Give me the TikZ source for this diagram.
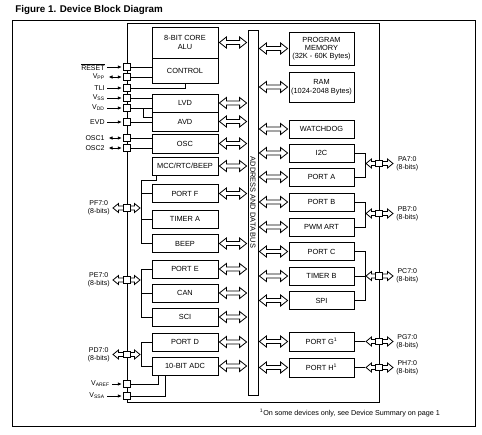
\documentclass[tikz,border=0pt]{standalone}
\usepackage{fontspec}
\setmainfont{Liberation Sans}
\usetikzlibrary{arrows.meta,calc}

\begin{document}
\begin{tikzpicture}[x=1pt, y=-1pt, line width=0.8pt,
  blk/.style={draw, fill=white, minimum width=66pt, minimum height=18pt, inner sep=1pt, align=center, font=\fontsize{7.4}{8.3}\selectfont},
  rblk/.style={blk, minimum width=65pt},
  pinbox/.style={draw, fill=white, minimum size=6.5pt, inner sep=0pt},
  pinlbl/.style={inner sep=2pt, align=center, font=\fontsize{7}{7.8}\selectfont},
  pinin/.style={-{Latex[length=4pt,width=3.5pt]}, shorten >=1.5pt},
  pinio/.style={{Latex[length=4pt,width=3.5pt]}-{Latex[length=4pt,width=3.5pt]}, shorten >=1.5pt, shorten <=1.5pt},
  dblarr/.style n args={3}{draw, fill=white, to path={
    let \p1=(\tikztostart), \p2=(\tikztotarget) in
    (\x1+1pt,\y1) -- (\x1+1pt+#1,\y1+#2) -- (\x1+1pt+#1,\y1+#3)
    -- (\x2-1pt-#1,\y1+#3) -- (\x2-1pt-#1,\y1+#2) -- (\x2-1pt,\y1)
    -- (\x2-1pt-#1,\y1-#2) -- (\x2-1pt-#1,\y1-#3)
    -- (\x1+1pt+#1,\y1-#3) -- (\x1+1pt+#1,\y1-#2) -- cycle}},
  busarr/.style={dblarr={7pt}{5.5pt}{2pt}},
  pinarr/.style={dblarr={5.5pt}{4.5pt}{2pt}}]
  \useasboundingbox (0,0) rectangle (482,434);

  % title and frames
  \node[anchor=base west, inner sep=0pt, font=\bfseries\fontsize{9.8}{11}\selectfont] (title) at (15,12.5) {Figure 1. Device Block Diagram};
  \draw (12,20) rectangle (475,426);
  \draw (127,23) rectangle (379,402);

  % address and data bus
  \node[draw, fill=white, minimum width=10pt, minimum height=365pt, inner sep=0pt] (bus) at (253,212.5) {};
  \node[rotate=-90, inner sep=0pt, font=\fontsize{7.4}{8}\selectfont] (buslbl) at (253,202.5) {ADDRESS AND DATA BUS};

  % left column
  \node[blk, minimum height=31pt] (alu) at (185,42.5) {8-BIT CORE\\ALU};
  \node[blk, minimum height=25pt] (control) at (185,70.5) {CONTROL};
  \node[blk] (lvd) at (185,103) {LVD};
  \node[blk, minimum height=19pt] (avd) at (185,121.5) {AVD};
  \node[blk, minimum height=19pt] (osc) at (185,143.5) {OSC};
  \node[blk] (mcc) at (185,166) {MCC/RTC/BEEP};
  \node[blk] (portf) at (185,193.5) {PORT F};
  \node[blk] (timera) at (185,219) {TIMER A};
  \node[blk] (beep) at (185,243.5) {BEEP};
  \node[blk] (porte) at (185,269) {PORT E};
  \node[blk] (can) at (185,293) {CAN};
  \node[blk] (sci) at (185,317) {SCI};
  \node[blk] (portd) at (185,342) {PORT D};
  \node[blk] (adc) at (185,366) {10-BIT ADC};

  % right column
  \node[rblk, minimum height=33pt] (progmem) at (321.5,48.5) {PROGRAM\\MEMORY\\(32K - 60K Bytes)};
  \node[rblk, minimum height=30pt, font=\fontsize{7.4}{9.5}\selectfont] (ram) at (321.5,87) {RAM\\(1024-2048 Bytes)};
  \node[rblk] (watchdog) at (321.5,129) {WATCHDOG};
  \node[rblk] (i2c) at (321.5,153) {I2C};
  \node[rblk] (porta) at (321.5,177) {PORT A};
  \node[rblk] (portb) at (321.5,202) {PORT B};
  \node[rblk] (pwmart) at (321.5,227) {PWM ART};
  \node[rblk] (portc) at (321.5,251.5) {PORT C};
  \node[rblk] (timerb) at (321.5,276) {TIMER B};
  \node[rblk] (spi) at (321.5,300.5) {SPI};
  \node[rblk, minimum height=19pt] (portg) at (321.5,341.5) {PORT G\textsuperscript{1}};
  \node[rblk, minimum height=19pt] (porth) at (321.5,367.5) {PORT H\textsuperscript{1}};

  % bus arrows
  \foreach \bx in {alu,lvd,avd,osc,mcc,portf,beep,porte,can,sci,portd,adc}
    \draw[busarr] (\bx.east) to (\bx.east -| bus.west);
  \foreach \bx in {progmem,ram,watchdog,i2c,porta,portb,pwmart,portc,timerb,spi,portg,porth}
    \draw[busarr] (\bx.west -| bus.east) to (\bx.west);

  % left pins
  \coordinate (lbus) at (141,0);
  \node[pinbox] (preset) at (127,67) {};
  \node[pinbox] (pvpp) at (127,77) {};
  \node[pinbox] (ptli) at (127,88) {};
  \node[pinbox] (pvss) at (127,98) {};
  \node[pinbox] (pvdd) at (127,108) {};
  \node[pinbox] (pevd) at (127,122) {};
  \node[pinbox] (posc1) at (127,138) {};
  \node[pinbox] (posc2) at (127,148) {};
  \node[pinbox] (pvaref) at (127,384) {};
  \node[pinbox] (pvssa) at (127,396) {};
  \node[pinlbl, anchor=east] (lreset) at (107,67) {\(\overline{\mbox{RESET}}\)};
  \node[pinlbl, anchor=east] (lvpp) at (107,77) {V\textsubscript{PP}};
  \node[pinlbl, anchor=east] (ltli) at (107,88) {TLI};
  \node[pinlbl, anchor=east] (lvss) at (107,98) {V\textsubscript{SS}};
  \node[pinlbl, anchor=east] (lvdd) at (107,108) {V\textsubscript{DD}};
  \node[pinlbl, anchor=east] (levd) at (107,122) {EVD};
  \node[pinlbl, anchor=east] (losc1) at (107,138) {OSC1};
  \node[pinlbl, anchor=east] (losc2) at (107,148) {OSC2};
  \node[pinlbl, anchor=east] (lvaref) at (112,384) {V\textsubscript{AREF}};
  \node[pinlbl, anchor=east] (lvssa) at (107,396) {V\textsubscript{SSA}};
  \draw[pinin] (lreset) -- (preset);
  \draw[pinio] (lvpp) -- (pvpp);
  \draw[pinin] (ltli) -- (ptli);
  \draw[pinin] (lvss) -- (pvss);
  \draw[pinin] (lvdd) -- (pvdd);
  \draw[pinin] (levd) -- (pevd);
  \draw[pinio] (losc1) -- (posc1);
  \draw[pinio] (losc2) -- (posc2);
  \draw[pinin] (lvaref) -- (pvaref);
  \draw[pinin] (lvssa) -- (pvssa);

  % left wiring
  \draw (preset) -- (preset -| control.west);
  \draw (pvpp) -- (pvpp -| control.west);
  \draw (ptli) -| (control.south);
  \draw (pvss) -- (pvss -| lvd.west);
  \draw (pvdd) -- (pvdd -| lvd.west);
  \coordinate (vddtap) at (143,108);
  \draw (vddtap) |- ([yshift=4pt]avd.west);
  \draw (pevd) -- (pevd -| avd.west);
  \draw (posc1) -- (posc1 -| osc.west);
  \draw (posc2) -- (posc2 -| osc.west);
  \coordinate (fbus) at (141,180);
  \draw ([xshift=5pt]mcc.south west) |- (fbus) |- (beep.west);
  \draw (lbus |- portf.west) -- (portf.west);
  \draw (lbus |- timera.west) -- (timera.west);
  \draw (porte.west) -- (lbus |- porte.west) |- (sci.west);
  \draw (lbus |- can.west) -- (can.west);
  \draw (portd.west) -- (lbus |- portd.west) |- (adc.west);
  \draw (pvaref) -| ([xshift=7pt]adc.south west);
  \draw (pvssa) -| ([xshift=14pt]adc.south west);

  % port pins, left
  \node[pinlbl, anchor=east] (lpf) at (112,208) {PF7:0\\(8-bits)};
  \node[pinlbl, anchor=east] (lpe) at (112,280) {PE7:0\\(8-bits)};
  \node[pinlbl, anchor=east] (lpd) at (112,354.5) {PD7:0\\(8-bits)};
  \draw[pinarr] (lpf.east) to (lpf.east -| lbus);
  \draw[pinarr] (lpe.east) to (lpe.east -| lbus);
  \draw[pinarr] (lpd.east) to (lpd.east -| lbus);
  \node[pinbox] (ppf) at (127,208) {};
  \node[pinbox] (ppe) at (127,280) {};
  \node[pinbox] (ppd) at (127,354.5) {};

  % right wiring
  \coordinate (rbus) at (365,0);
  \draw (i2c.east) -| (rbus |- porta.east) -- (porta.east);
  \draw (portb.east) -| (rbus |- pwmart.east) -- (pwmart.east);
  \draw (portc.east) -| (rbus |- spi.east) -- (spi.east);
  \draw (timerb.east) -- (rbus |- timerb.east);
  \draw (portg.east) -- (rbus |- portg.east);
  \draw (porth.east) -- (rbus |- porth.east);

  % port pins, right
  \node[pinlbl, anchor=west] (lpa) at (394,163.5) {PA7:0\\(8-bits)};
  \node[pinlbl, anchor=west] (lpb) at (394,213.5) {PB7:0\\(8-bits)};
  \node[pinlbl, anchor=west] (lpc) at (394,276) {PC7:0\\(8-bits)};
  \node[pinlbl, anchor=west] (lpg) at (394,341.5) {PG7:0\\(8-bits)};
  \node[pinlbl, anchor=west] (lph) at (394,367.5) {PH7:0\\(8-bits)};
  \foreach \pl in {lpa,lpb,lpc,lpg,lph}
    \draw[pinarr] (rbus |- \pl.west) to (\pl.west);
  \node[pinbox] (ppa) at (379,163.5) {};
  \node[pinbox] (ppb) at (379,213.5) {};
  \node[pinbox] (ppc) at (379,276) {};
  \node[pinbox] (ppg) at (379,341.5) {};
  \node[pinbox] (pph) at (379,367.5) {};

  % footnote
  \node[inner sep=0pt, font=\fontsize{7.2}{8}\selectfont] (note) at (350,413) {\textsuperscript{1}On some devices only, see Device Summary on page 1};
\end{tikzpicture}
\end{document}
